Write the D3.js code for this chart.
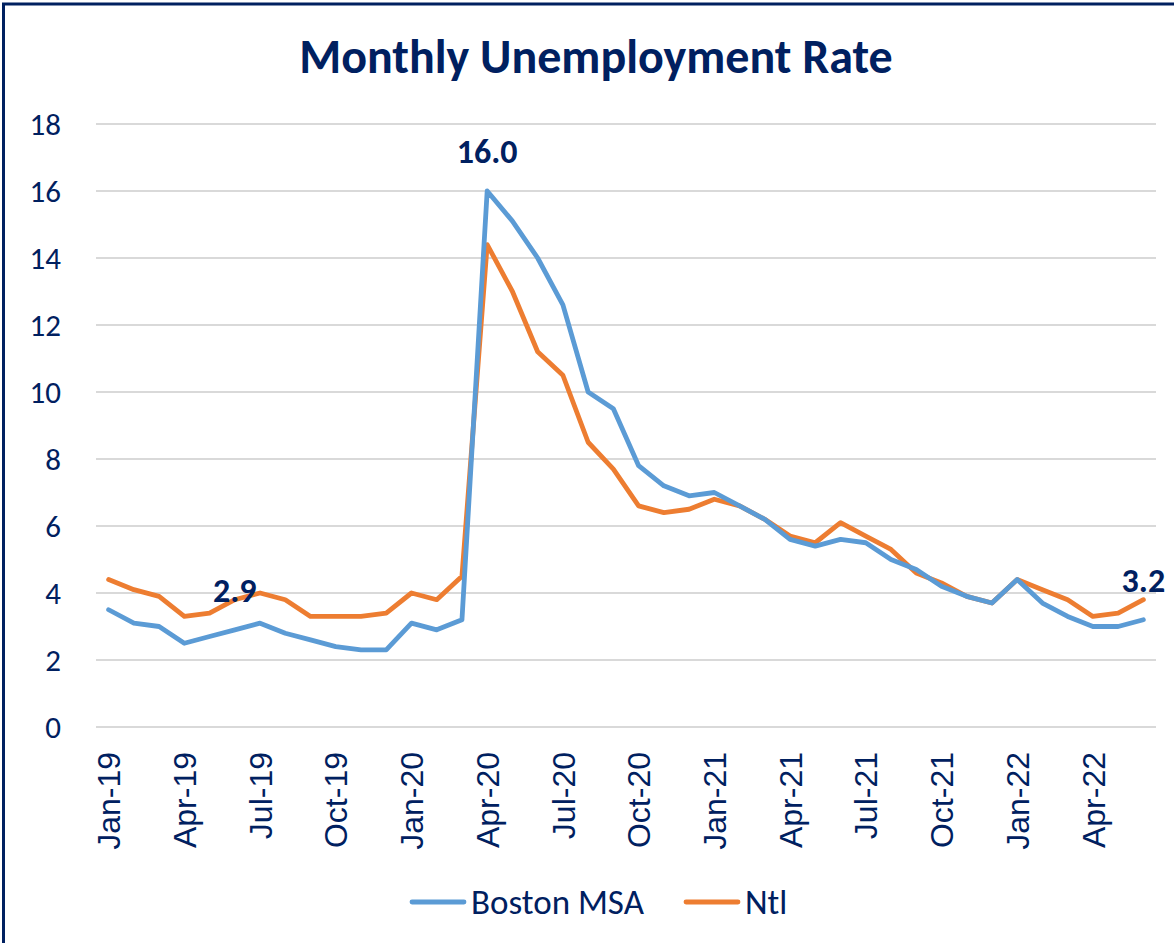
<!DOCTYPE html>
<html>
<head>
<meta charset="utf-8">
<script src="https://cdn.jsdelivr.net/npm/d3@7"></script>
<style>
  body { margin: 0; background: #fff; }
</style>
</head>
<body>
<script>
// months Jan-19 .. Jun-22
var months = ["Jan-19","Feb-19","Mar-19","Apr-19","May-19","Jun-19","Jul-19","Aug-19","Sep-19","Oct-19","Nov-19","Dec-19",
  "Jan-20","Feb-20","Mar-20","Apr-20","May-20","Jun-20","Jul-20","Aug-20","Sep-20","Oct-20","Nov-20","Dec-20",
  "Jan-21","Feb-21","Mar-21","Apr-21","May-21","Jun-21","Jul-21","Aug-21","Sep-21","Oct-21","Nov-21","Dec-21",
  "Jan-22","Feb-22","Mar-22","Apr-22","May-22","Jun-22"];

var boston = [3.5,3.1,3.0,2.5,2.7,2.9,3.1,2.8,2.6,2.4,2.3,2.3,
  3.1,2.9,3.2,16.0,15.1,14.0,12.6,10.0,9.5,7.8,7.2,6.9,
  7.0,6.6,6.2,5.6,5.4,5.6,5.5,5.0,4.7,4.2,3.9,3.7,
  4.4,3.7,3.3,3.0,3.0,3.2];

var ntl = [4.4,4.1,3.9,3.3,3.4,3.8,4.0,3.8,3.3,3.3,3.3,3.4,
  4.0,3.8,4.5,14.4,13.0,11.2,10.5,8.5,7.7,6.6,6.4,6.5,
  6.8,6.6,6.2,5.7,5.5,6.1,5.7,5.3,4.6,4.3,3.9,3.7,
  4.4,4.1,3.8,3.3,3.4,3.8];

var yTicks = [0,2,4,6,8,10,12,14,16,18];
var labelled = ["Jun-19","Apr-20","Jun-22"]; // points with Boston data labels

var w = 1174, h = 943;
var navy = "#002060";
var calibri = "Carlito, Lato, sans-serif";

var svg = d3.select("body").append("svg")
    .attr("width", w)
    .attr("height", h);

// frame (only top and left edges show)
svg.append("line").attr("x1", 2).attr("x2", w).attr("y1", 4).attr("y2", 4)
    .attr("stroke", navy).attr("stroke-width", 3);
svg.append("line").attr("x1", 3.5).attr("x2", 3.5).attr("y1", 3).attr("y2", h)
    .attr("stroke", navy).attr("stroke-width", 3);

svg.append("text")
    .attr("x", 596).attr("y", 73)
    .attr("text-anchor", "middle")
    .attr("font-family", calibri)
    .attr("font-weight", "bold")
    .attr("font-size", 48)
    .attr("fill", navy)
    .text("Monthly Unemployment Rate");

var xScale = d3.scalePoint()
    .domain(months)
    .range([96, 1156])
    .padding(0.5);

var yScale = d3.scaleLinear()
    .domain([0, 18])
    .range([727, 124]);

// gridlines
svg.append("g").selectAll("line")
    .data(yTicks)
    .enter()
    .append("line")
    .attr("x1", 96).attr("x2", 1156)
    .attr("y1", function (d) { return yScale(d); })
    .attr("y2", function (d) { return yScale(d); })
    .attr("stroke", "#d9d9d9")
    .attr("stroke-width", 2);

// y axis labels
var yAxis = d3.axisLeft(yScale).tickValues(yTicks).tickSize(0).tickPadding(0);
svg.append("g")
    .attr("transform", "translate(61,0)")
    .call(yAxis)
    .call(function (g) { g.select(".domain").remove(); })
    .selectAll("text")
    .attr("font-family", calibri)
    .attr("font-size", 31)
    .attr("fill", navy)
    .attr("dy", "0.35em");

// x axis labels, every third month
var xAxis = d3.axisBottom(xScale)
    .tickValues(months.filter(function (d, i) { return i % 3 === 0; }))
    .tickSize(0);
svg.append("g")
    .attr("transform", "translate(0,740)")
    .call(xAxis)
    .call(function (g) { g.select(".domain").remove(); })
    .selectAll("text")
    .attr("font-family", "'Liberation Sans', Arial, sans-serif")
    .attr("font-size", 32)
    .attr("fill", navy)
    .attr("text-anchor", "end")
    .attr("transform", "rotate(-90)")
    .attr("x", -12)
    .attr("y", 0)
    .attr("dy", "0.35em");

var line = d3.line()
    .x(function (d, i) { return xScale(months[i]); })
    .y(function (d) { return yScale(d); });

svg.append("path")
    .datum(ntl)
    .attr("fill", "none")
    .attr("stroke", "#ED7D31")
    .attr("stroke-width", 4.8)
    .attr("stroke-linejoin", "round")
    .attr("stroke-linecap", "round")
    .attr("d", line);

svg.append("path")
    .datum(boston)
    .attr("fill", "none")
    .attr("stroke", "#5B9BD5")
    .attr("stroke-width", 4.8)
    .attr("stroke-linejoin", "round")
    .attr("stroke-linecap", "round")
    .attr("d", line);

// data labels
svg.selectAll(".dlabel")
    .data(labelled)
    .enter()
    .append("text")
    .attr("class", "dlabel")
    .attr("x", function (d) { return xScale(d); })
    .attr("y", function (d) { return yScale(boston[months.indexOf(d)]) - 28; })
    .attr("text-anchor", "middle")
    .attr("font-family", calibri)
    .attr("font-weight", "bold")
    .attr("font-size", 34)
    .attr("fill", navy)
    .text(function (d) { return boston[months.indexOf(d)].toFixed(1); });

// legend
var legend = [
  { name: "Boston MSA", color: "#5B9BD5", x: 410 },
  { name: "Ntl", color: "#ED7D31", x: 684 }
];
var lg = svg.selectAll(".legend")
    .data(legend)
    .enter()
    .append("g")
    .attr("class", "legend")
    .attr("transform", function (d) { return "translate(" + d.x + ",902)"; });
lg.append("line")
    .attr("x1", 2).attr("x2", 54)
    .attr("stroke", function (d) { return d.color; })
    .attr("stroke-width", 4.8)
    .attr("stroke-linecap", "round");
lg.append("text")
    .attr("x", 61)
    .attr("dy", "0.35em")
    .attr("font-family", calibri)
    .attr("font-size", 35)
    .attr("fill", navy)
    .text(function (d) { return d.name; });
</script>
</body>
</html>
